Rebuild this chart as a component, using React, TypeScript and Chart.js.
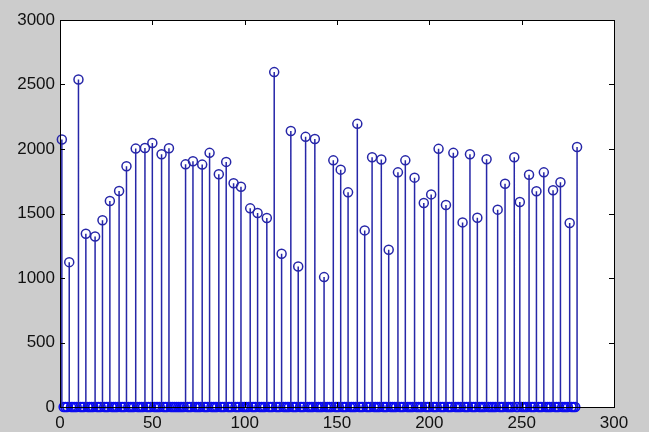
import React, { useEffect, useRef } from "react";
import { Chart, registerables } from "chart.js";

Chart.register(...registerables);

// Sample count of the signal (x runs 1..N)
const N = 280;
// Indices of the non-zero samples
const stemIndex = [1, 5, 10, 14, 19, 23, 27, 32, 36, 41, 46, 50, 55, 59, 68, 72, 77, 81, 86, 90, 94, 98, 103, 107, 112, 116, 120, 125, 129, 133, 138, 143, 148, 152, 156, 161, 165, 169, 174, 178, 183, 187, 192, 197, 201, 205, 209, 213, 218, 222, 226, 231, 237, 241, 246, 249, 254, 258, 262, 267, 271, 276, 280];
// Values of the non-zero samples
const stemValue = [2073, 1123, 2539, 1343, 1322, 1447, 1597, 1675, 1866, 2003, 2008, 2047, 1959, 2006, 1881, 1905, 1879, 1970, 1804, 1900, 1734, 1708, 1540, 1504, 1465, 2596, 1188, 2140, 1089, 2094, 2078, 1007, 1912, 1840, 1664, 2195, 1369, 1936, 1918, 1219, 1819, 1912, 1778, 1581, 1648, 2001, 1566, 1970, 1431, 1959, 1467, 1920, 1530, 1731, 1936, 1589, 1801, 1672, 1819, 1680, 1742, 1426, 2016];
const xTicks = [0, 50, 100, 150, 200, 250, 300];
const yTicks = [0, 500, 1000, 1500, 2000, 2500, 3000];

const STEM = "#2626a8";
const ZERO = "#0a0af0";
const FONT = { family: "'Liberation Sans', Arial, sans-serif", size: 17 };

const boxPlugin = {
  id: "matlabBox",
  beforeDraw(chart: any) {
    const { ctx, chartArea: a } = chart;
    ctx.save();
    ctx.fillStyle = "#ffffff";
    ctx.fillRect(a.left, a.top, a.right - a.left, a.bottom - a.top);
    ctx.restore();
  },
  afterDraw(chart: any) {
    const { ctx, chartArea: a, scales } = chart;
    ctx.save();
    ctx.strokeStyle = "#000000";
    ctx.lineWidth = 1;
    const L = 5;
    ctx.beginPath();
    xTicks.forEach((t) => {
      const px = Math.round(scales.x.getPixelForValue(t)) + 0.5;
      ctx.moveTo(px, a.top);
      ctx.lineTo(px, a.top + L);
      ctx.moveTo(px, a.bottom);
      ctx.lineTo(px, a.bottom - L);
    });
    yTicks.forEach((t) => {
      const py = Math.round(scales.y.getPixelForValue(t)) + 0.5;
      ctx.moveTo(a.left, py);
      ctx.lineTo(a.left + L, py);
      ctx.moveTo(a.right, py);
      ctx.lineTo(a.right - L, py);
    });
    ctx.stroke();
    ctx.strokeRect(Math.round(a.left) + 0.5, Math.round(a.top) + 0.5, Math.round(a.right - a.left), Math.round(a.bottom - a.top));
    ctx.restore();
  },
};

export default function App() {
  const ref = useRef<HTMLCanvasElement | null>(null);

  useEffect(() => {
    if (!ref.current) return;
    const signal: number[] = new Array(N).fill(0);
    stemIndex.forEach((ix, i) => {
      signal[ix - 1] = stemValue[i];
    });
    const stems: any[] = [];
    const tops: any[] = [];
    const zeros: any[] = [];
    signal.forEach((v, i) => {
      const x = i + 1;
      if (v !== 0) {
        stems.push({ x, y: 0 }, { x, y: v }, { x, y: null });
        tops.push({ x, y: v });
      } else {
        zeros.push({ x, y: 0 });
      }
    });

    const chart = new Chart(ref.current, {
      type: "scatter",
      data: {
        datasets: [
          {
            type: "line",
            data: stems,
            borderColor: STEM,
            borderWidth: 1.5,
            pointRadius: 0,
            spanGaps: false,
            fill: false,
            clip: false,
          } as any,
          {
            data: tops,
            pointStyle: "circle",
            pointRadius: 4.5,
            borderColor: STEM,
            borderWidth: 1.5,
            backgroundColor: "rgba(0,0,0,0)",
            clip: false,
          } as any,
          {
            data: zeros,
            pointStyle: "circle",
            pointRadius: 4.5,
            borderColor: ZERO,
            borderWidth: 1.6,
            backgroundColor: "rgba(0,0,0,0)",
            clip: false,
          } as any,
        ],
      },
      options: {
        animation: false,
        responsive: false,
        maintainAspectRatio: false,
        layout: { padding: { top: 20, right: 35, left: 0, bottom: 0 } },
        plugins: { legend: { display: false }, tooltip: { enabled: false } },
        scales: {
          x: {
            type: "linear",
            min: 0,
            max: 300,
            afterBuildTicks: (s: any) => {
              s.ticks = xTicks.map((v) => ({ value: v }));
            },
            afterFit: (s: any) => {
              s.height = 25;
            },
            ticks: { color: "#111", font: FONT, padding: 6, maxRotation: 0, callback: (v: any) => String(v) },
            grid: { display: false, drawTicks: false },
            border: { display: false },
          },
          y: {
            type: "linear",
            min: 0,
            max: 3000,
            afterBuildTicks: (s: any) => {
              s.ticks = yTicks.map((v) => ({ value: v }));
            },
            afterFit: (s: any) => {
              s.width = 60;
            },
            ticks: { color: "#111", font: FONT, padding: 5, callback: (v: any) => String(v) },
            grid: { display: false, drawTicks: false },
            border: { display: false },
          },
        },
      },
      plugins: [boxPlugin],
    } as any);
    return () => chart.destroy();
  }, []);

  return (
    <div style={{ position: "fixed", left: 0, top: 0, width: 649, height: 432, background: "#cccccc" }}>
      <canvas ref={ref} width={649} height={432} style={{ display: "block", width: 649, height: 432 }} />
    </div>
  );
}
